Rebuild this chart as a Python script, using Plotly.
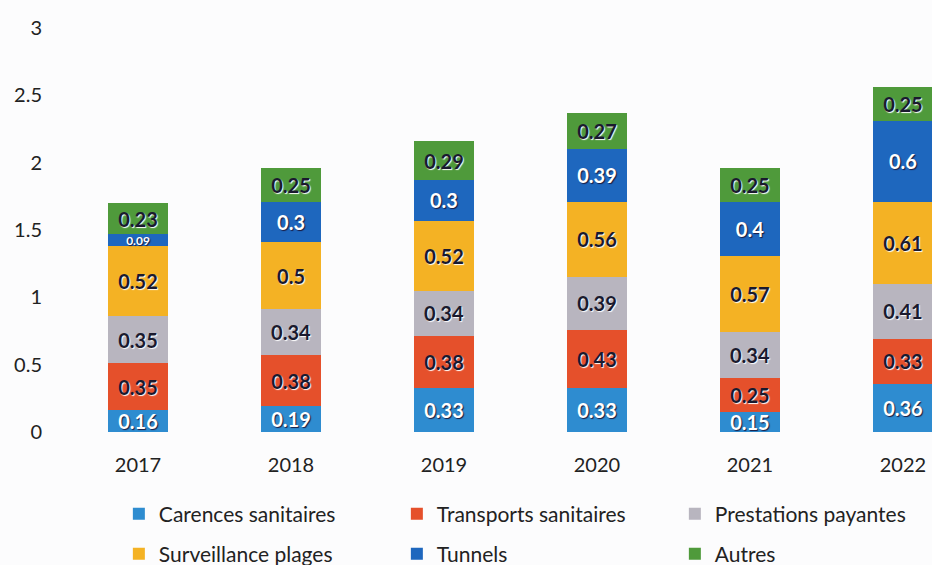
import plotly.graph_objects as go

years = ["2017", "2018", "2019", "2020", "2021", "2022"]
series_names = ["Carences sanitaires", "Transports sanitaires", "Prestations payantes",
                "Surveillance plages", "Tunnels", "Autres"]
carences = [0.16, 0.19, 0.33, 0.33, 0.15, 0.36]
transports = [0.35, 0.38, 0.38, 0.43, 0.25, 0.33]
prestations = [0.35, 0.34, 0.34, 0.39, 0.34, 0.41]
surveillance = [0.52, 0.5, 0.52, 0.56, 0.57, 0.61]
tunnels = [0.09, 0.3, 0.3, 0.39, 0.4, 0.6]
autres = [0.23, 0.25, 0.29, 0.27, 0.25, 0.25]
y_ticks = [0, 0.5, 1, 1.5, 2, 2.5, 3]
y_tick_labels = ["0", "0.5", "1", "1.5", "2", "2.5", "3"]

values = [carences, transports, prestations, surveillance, tunnels, autres]
colors = ["#2E8CD0", "#E5502B", "#B8B5BF", "#F4B224", "#1E67BE", "#4F9A3B"]
text_colors = ["white", "#1a1a2e", "#1a1a2e", "#1a1a2e", "white", "#1a1a2e"]
shadows = ["1px 1px 1px #1a1a40", "1px 1px 1px white", "1px 1px 1px white",
           "1px 1px 1px white", "1px 1px 1px #1a1a40", "1px 1px 1px white"]
legend_ids = ["legend", "legend", "legend", "legend2", "legend2", "legend2"]

fig = go.Figure()
for name, vals, col, tcol, sh, lg in zip(series_names, values, colors, text_colors, shadows, legend_ids):
    # shrink a label only where its segment is too thin to hold it
    sizes = [20 if v >= 0.12 else 12 for v in vals]
    fig.add_trace(go.Bar(
        name=name, x=years, y=vals, width=0.39, legend=lg,
        marker=dict(color=col, line=dict(width=0)),
        text=[f"{v:g}" for v in vals], texttemplate="%{text}",
        textposition="inside", insidetextanchor="middle", textangle=0,
        constraintext="none",
        textfont=dict(family="Lato, sans-serif", size=sizes, color=tcol, weight="bold", shadow=sh),
        hoverinfo="skip",
    ))

legend_common = dict(orientation="h", xanchor="left", yanchor="middle",
                     entrywidth=233, entrywidthmode="pixels", traceorder="normal",
                     font=dict(size=21, family="Lato, sans-serif", color="#222"),
                     itemwidth=30, bgcolor="rgba(0,0,0,0)")

fig.update_layout(
    barmode="stack",
    width=932, height=565,
    margin=dict(l=60, r=0, t=28, b=133, autoexpand=False),
    paper_bgcolor="#FCFCFD", plot_bgcolor="#FCFCFD",
    font=dict(family="Lato, sans-serif", size=20, color="#222"),
    showlegend=True,
    legend=dict(x=0.0675, y=-0.203, **legend_common),
    legend2=dict(x=0.0675, y=-0.302, **legend_common),
    xaxis=dict(range=[-0.51, 5.19], showgrid=False, showline=False, ticks="",
               tickfont=dict(size=20), ticklabelstandoff=19),
    yaxis=dict(range=[0, 3], tickvals=y_ticks, ticktext=y_tick_labels, showgrid=False,
               zeroline=False, showline=False, ticks="", tickfont=dict(size=20),
               ticklabelstandoff=17),
)

fig.write_html("out.html", config={"displayModeBar": False},
               post_script="document.body.style.margin='0px';document.body.style.overflow='hidden';")
